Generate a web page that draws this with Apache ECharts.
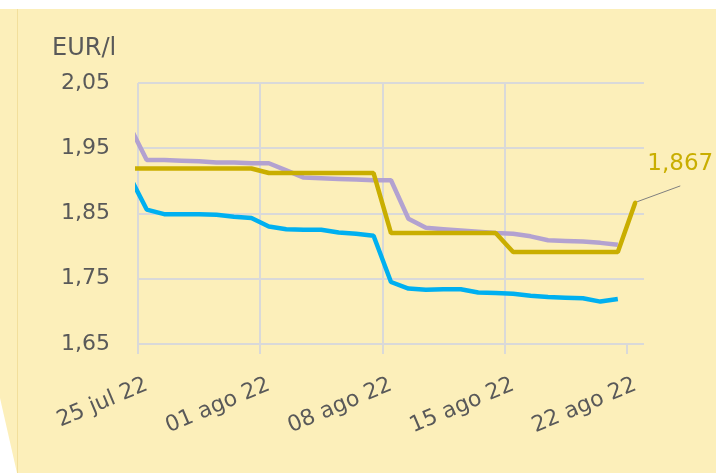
<!DOCTYPE html>
<html>
<head>
<meta charset="utf-8">
<script src="https://cdn.jsdelivr.net/npm/echarts@6/dist/echarts.min.js"></script>
<style>
  html, body { margin: 0; padding: 0; background: #fff; }
  .wrap { position: relative; width: 716px; height: 473px; }
  .bg {
    position: absolute; left: 0; top: 0; width: 716px; height: 473px;
    background: #fcefba;
    clip-path: polygon(0 9px, 100% 9px, 100% 100%, 17px 100%, 0 398px);
  }
  .edge { position: absolute; left: 17px; top: 9px; width: 1px; height: 464px; background: #f2df9c; }
  #chart { position: absolute; left: 0; top: 0; width: 716px; height: 473px; }
</style>
</head>
<body>
<div class="wrap">
  <div class="bg"></div>
  <div class="edge"></div>
  <div id="chart"></div>
</div>
<script>
// dias del eje (25 jul 22 .. 22 ago 22)
const days = [
  '25 jul 22', '26 jul 22', '27 jul 22', '28 jul 22', '29 jul 22', '30 jul 22', '31 jul 22',
  '01 ago 22', '02 ago 22', '03 ago 22', '04 ago 22', '05 ago 22', '06 ago 22', '07 ago 22',
  '08 ago 22', '09 ago 22', '10 ago 22', '11 ago 22', '12 ago 22', '13 ago 22', '14 ago 22',
  '15 ago 22', '16 ago 22', '17 ago 22', '18 ago 22', '19 ago 22', '20 ago 22', '21 ago 22',
  '22 ago 22'
]
// dias con etiqueta / marca en el eje
const weekTicks = [0, 7, 14, 21, 28]
const yTicks = [1.65, 1.75, 1.85, 1.95, 2.05]

// precios diarios, desde 24 jul 22 (fuera del eje, recortado) hasta 22 ago 22
const lilac = [
  1.985,
  1.932, 1.932, 1.931, 1.930, 1.928, 1.928, 1.927,
  1.927, 1.916, 1.905, 1.904, 1.903, 1.902, 1.901,
  1.901, 1.842, 1.828, 1.826, 1.824, 1.822, 1.820,
  1.819, 1.815, 1.809, 1.808, 1.807, 1.805, 1.802,
  null
]
const gold = [
  1.919,
  1.919, 1.919, 1.919, 1.919, 1.919, 1.919, 1.919,
  1.912, 1.912, 1.912, 1.912, 1.912, 1.912, 1.912,
  1.820, 1.820, 1.820, 1.820, 1.820, 1.820, 1.820,
  1.791, 1.791, 1.791, 1.791, 1.791, 1.791, 1.791,
  1.867
]
const blue = [
  1.908,
  1.856, 1.849, 1.849, 1.849, 1.848, 1.845, 1.843,
  1.830, 1.826, 1.825, 1.825, 1.821, 1.819, 1.816,
  1.745, 1.735, 1.733, 1.734, 1.734, 1.729, 1.728,
  1.727, 1.724, 1.722, 1.721, 1.720, 1.715, 1.719,
  null
]

const txt = '#595959'
const gridCol = '#d9d9d9'
const font = 'DejaVu Sans'

// cada valor en el centro de su dia (24 jul = -1)
const toPoints = arr => arr.map((v, i) => [i - 0.5, v])
const comma = v => String(v).replace('.', ',')

const chart = echarts.init(document.getElementById('chart'))

const goldPts = toPoints(gold).map((p, i, all) => {
  if (i !== all.length - 1) return p
  return {
    value: p,
    symbol: 'circle',
    symbolSize: 4,
    label: { show: true }
  }
})

// caja invisible alrededor de la etiqueta: la linea guia llega por debajo
const padSide = 60
const padBottom = 10

// etiqueta arriba a la derecha del ultimo punto
const placeLabel = params => {
  const r = params.rect
  const lr = params.labelRect
  const px = r.x + r.width / 2
  const py = r.y + r.height / 2
  const textCx = lr.x + lr.width / 2
  const textCy = lr.y + (lr.height - padBottom) / 2
  return {
    dx: px + 45 - textCx,
    dy: py - 38 - textCy
  }
}

const option = {
  animation: false,
  title: {
    text: 'EUR/l',
    left: 52,
    top: 37,
    padding: 0,
    textStyle: { fontFamily: font, fontSize: 24, fontWeight: 'normal', color: txt }
  },
  grid: { left: 138, right: 72, top: 83, bottom: 129 },
  xAxis: {
    type: 'value',
    min: 0,
    max: days.length,
    interval: 7,
    axisLine: { show: false },
    axisTick: {
      show: true,
      customValues: weekTicks,
      length: 10,
      lineStyle: { color: gridCol, width: 2 }
    },
    splitLine: { show: true, showMaxLine: false, lineStyle: { color: gridCol, width: 2 } },
    axisLabel: {
      customValues: weekTicks.map(d => d + 0.5),
      formatter: v => days[Math.floor(v)],
      rotate: 23,
      margin: 40,
      color: txt,
      fontFamily: font,
      fontSize: 22
    }
  },
  yAxis: {
    type: 'value',
    min: yTicks[0],
    max: yTicks[yTicks.length - 1],
    axisLine: { show: false },
    axisTick: { show: false, customValues: yTicks },
    splitLine: { show: true, lineStyle: { color: gridCol, width: 2 } },
    axisLabel: {
      customValues: yTicks,
      formatter: v => comma(v.toFixed(2)),
      margin: 28,
      color: txt,
      fontFamily: font,
      fontSize: 22
    }
  },
  series: [
    {
      type: 'line',
      data: toPoints(lilac),
      symbol: 'none',
      lineStyle: { color: '#b3a2d0', width: 4.5 },
      itemStyle: { color: '#b3a2d0' },
      z: 2
    },
    {
      type: 'line',
      data: goldPts,
      symbol: 'none',
      lineStyle: { color: '#c9ae00', width: 4.5 },
      itemStyle: { color: '#c9ae00' },
      label: {
        position: 'top',
        formatter: p => comma(p.value[1]),
        color: '#c9ae00',
        fontFamily: font,
        fontSize: 23,
        backgroundColor: 'rgba(0,0,0,0)',
        padding: [0, padSide, padBottom, padSide]
      },
      labelLayout: placeLabel,
      labelLine: { show: true, length2: 0, lineStyle: { color: '#7f7f7f', width: 1 } },
      z: 3
    },
    {
      type: 'line',
      data: toPoints(blue),
      symbol: 'none',
      lineStyle: { color: '#00b0f0', width: 4.5 },
      itemStyle: { color: '#00b0f0' },
      z: 4
    }
  ]
}

chart.setOption(option)
</script>
</body>
</html>
